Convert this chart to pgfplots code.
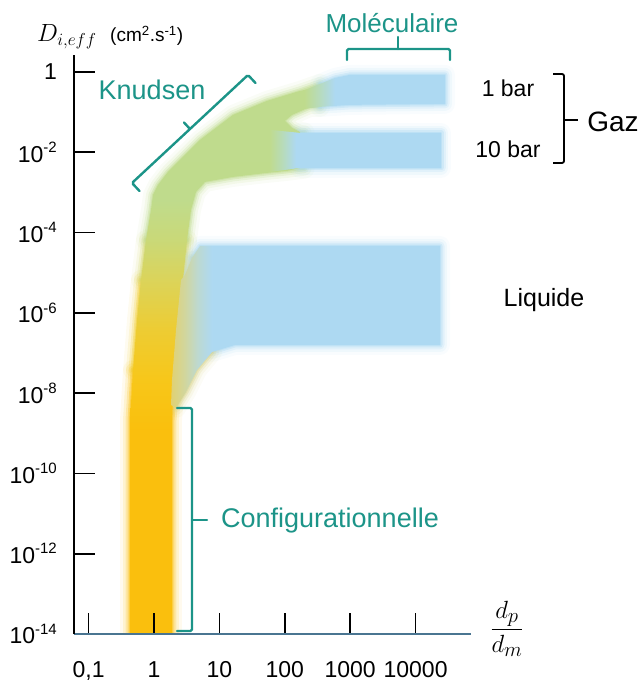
\documentclass[border=0pt]{standalone}
\usepackage{fontspec}
\setmainfont{Liberation Sans}
\usepackage{pgfplots}
\pgfplotsset{compat=1.18}
\definecolor{tealc}{RGB}{28,148,136}
\definecolor{xaxc}{RGB}{74,117,145}
\definecolor{cOr}{rgb}{0.98,0.75,0.05}
\definecolor{cGo}{rgb}{0.94,0.80,0.18}
\definecolor{cYg}{rgb}{0.83,0.84,0.42}
\definecolor{cGr}{rgb}{0.75,0.86,0.56}
\definecolor{cBl}{rgb}{0.68,0.85,0.95}
\definecolor{cBe}{rgb}{0.85,0.83,0.55}
\definecolor{cLb}{rgb}{0.76,0.85,0.78}
\pgfdeclareverticalshading{mainsh}{100bp}{rgb(0bp)=(0.98,0.75,0.05); rgb(43.6bp)=(0.98,0.75,0.05); rgb(48.1bp)=(0.97,0.78,0.10); rgb(52.7bp)=(0.93,0.80,0.20); rgb(57.2bp)=(0.86,0.83,0.35); rgb(60.9bp)=(0.79,0.85,0.47); rgb(64.5bp)=(0.75,0.86,0.55); rgb(100bp)=(0.75,0.86,0.56)}
\pgfdeclarehorizontalshading{gasA}{100bp}{rgb(0bp)=(0.75,0.86,0.56); rgb(25bp)=(0.75,0.86,0.56); rgb(29.6bp)=(0.72,0.86,0.72); rgb(35.7bp)=(0.68,0.85,0.95); rgb(100bp)=(0.68,0.85,0.95)}
\pgfdeclarehorizontalshading{gasB}{100bp}{rgb(0bp)=(0.75,0.86,0.56); rgb(25bp)=(0.75,0.86,0.56); rgb(28.5bp)=(0.72,0.86,0.72); rgb(32.6bp)=(0.68,0.85,0.95); rgb(100bp)=(0.68,0.85,0.95)}
\pgfdeclarehorizontalshading{liqsh}{100bp}{rgb(0bp)=(0.88,0.82,0.45); rgb(25bp)=(0.88,0.82,0.45); rgb(27.6bp)=(0.82,0.84,0.62); rgb(30bp)=(0.74,0.85,0.82); rgb(32.6bp)=(0.68,0.85,0.95); rgb(100bp)=(0.68,0.85,0.95)}
\newcommand{\halo}[2]{%
 \addplot[draw=#1, line width=20pt, opacity=0.07, line join=round, line cap=round] coordinates {#2};
 \addplot[draw=#1, line width=14pt, opacity=0.13, line join=round, line cap=round] coordinates {#2};
 \addplot[draw=#1, line width=9pt, opacity=0.22, line join=round, line cap=round] coordinates {#2};
 \addplot[draw=#1, line width=5pt, opacity=0.35, line join=round, line cap=round] coordinates {#2};
 \addplot[draw=#1, line width=2pt, opacity=0.45, line join=round, line cap=round] coordinates {#2};
}
\newcommand{\ex}[1]{10\raisebox{0.42em}{\fontsize{15}{15}\selectfont #1}}
\begin{document}
\begin{tikzpicture}
\path[use as bounding box] (0,0) rectangle (642pt,681pt);
\begin{axis}[
  at={(74pt,47pt)}, anchor=south west,
  scale only axis, width=397pt, height=579pt,
  xmode=log, ymode=log,
  xmin=0.0598, xmax=70300, ymin=1e-14, ymax=2.63,
  axis x line=bottom, axis y line=left,
  x axis line style={draw=xaxc, line width=1.8pt, -},
  y axis line style={draw=black, line width=1.4pt, -},
  axis on top,
  xtick={0.1,1,10,100,1000,10000},
  xticklabels={{0,1},1,10,100,1000,10000},
  ytick={1e-14,1e-12,1e-10,1e-8,1e-6,1e-4,1e-2,1},
  yticklabels={\ex{-14},\ex{-12},\ex{-10},\ex{-8},\ex{-6},\ex{-4},\ex{-2},1},
  xminorticks=false, yminorticks=false,
  tick align=inside, major tick length=21pt,
  tick style={black, line width=1.6pt},
  tick label style={font=\fontsize{23}{27}\selectfont},
  yticklabel style={anchor=east, inner sep=0pt, xshift=-17pt},
  xticklabel style={anchor=north, inner sep=0pt, yshift=-27pt},
  no markers,
]
% ---- soft edges (halos) ----
\halo{cOr}{(0.43,1e-14)(0.43,2.14e-9)(0.478,3.77e-8)}
\halo{cOr}{(1.884,1e-14)(1.884,2.14e-9)(1.95,4.5e-9)}
\halo{cGo}{(0.478,3.77e-8)(0.55,6.63e-7)(0.633,6.58e-6)}
\halo{cYg}{(0.633,6.58e-6)(0.7545,6.53e-5)}
\halo{cYg}{(3.196,6.53e-5)(2.776,6.58e-6)}
\halo{cGr}{(0.7545,6.53e-5)(0.900,3.65e-4)(0.965,8.63e-4)(1.151,1.531e-3)(1.637,3.23e-3)(2.979,8.55e-3)(5.05,2.02e-2)(16.14,8.49e-2)(53.4,0.1895)(170.8,0.3362)(345.3,0.5024)}
\halo{cGr}{(345.3,0.1343)(242.8,0.1343)(128.8,8.49e-2)(100.7,6.02e-2)(128.8,4.03e-2)(170.8,3.20e-2)(200,3.1e-2)}
\halo{cGr}{(200,3.9e-3)(108.1,3.42e-3)(53.4,3.05e-3)(16.14,2.42e-3)(6.02,1.818e-3)(4.387,1.024e-3)(3.679,3.65e-4)(3.196,6.53e-5)}
\halo{cBl}{(345.3,0.5024)(585.6,0.7087)(993,0.842)(28150,0.842)(28150,0.1595)(993,0.1507)(345.3,0.1343)}
\halo{cBl}{(170.8,3.02e-2)(24450,3.02e-2)(24450,4.06e-3)(170.8,4.06e-3)}
\halo{cBl}{(3.811,2.32e-5)(5.05,4.62e-5)(23600,4.62e-5)(23600,1.58e-7)(17.32,1.58e-7)(7.705,1.057e-7)}
\halo{cBe}{(7.705,1.057e-7)(4.545,3.77e-8)(3.085,1.067e-8)(2.170,4.26e-9)}
\halo{cLb}{(2.979,8.77e-6)(3.811,2.32e-5)}
% ---- bands ----
\addplot[draw=none, shading=mainsh] coordinates {
(0.43,1e-14)(0.43,2.14e-9)(0.478,3.77e-8)(0.55,6.63e-7)(0.633,6.58e-6)(0.7545,6.53e-5)
(0.900,3.65e-4)(0.965,8.63e-4)(1.151,1.531e-3)(1.637,3.23e-3)(2.979,8.55e-3)(5.05,2.02e-2)
(16.14,8.49e-2)(53.4,0.1895)(170.8,0.3362)(411.8,0.448)(585.6,0.4745)(585.6,0.1595)
(242.8,0.1343)(128.8,8.49e-2)(100.7,6.02e-2)(128.8,4.03e-2)(170.8,3.20e-2)(170.8,4.06e-3)
(108.1,3.42e-3)(53.4,3.05e-3)(16.14,2.42e-3)(6.02,1.818e-3)(4.387,1.024e-3)(3.679,3.65e-4)
(3.196,6.53e-5)(2.776,6.58e-6)(2.328,3.73e-7)(2.022,2.12e-8)(1.884,2.14e-9)(1.884,1e-14)};
\addplot[draw=none, shading=gasA] coordinates {
(203.6,0.356)(345.3,0.5024)(585.6,0.7087)(993,0.842)(28150,0.842)(28150,0.1595)
(993,0.1507)(345.3,0.1343)(203.6,0.1198)};
\addplot[draw=none, shading=gasB] coordinates {
(59.4,3.59e-2)(170.8,3.02e-2)(24450,3.02e-2)(24450,4.06e-3)(170.8,4.06e-3)(59.4,3.23e-3)};
\addplot[draw=none, shading=liqsh] coordinates {
(2.979,8.77e-6)(3.811,2.32e-5)(5.05,4.62e-5)(23600,4.62e-5)(23600,1.58e-7)(17.32,1.58e-7)
(7.705,1.057e-7)(4.545,3.77e-8)(3.085,1.067e-8)(2.170,4.26e-9)(1.820,5.06e-9)(1.884,2.12e-8)
(2.170,3.73e-7)(2.587,6.58e-6)};
\end{axis}
% ---- annotations ----
\node[anchor=base west, inner sep=0pt] at (37pt,639pt) {\fontsize{25}{29}\selectfont$D_{i,eff}$};
\node[anchor=base west, inner sep=0pt] at (110pt,639pt) {\fontsize{19}{22}\selectfont (cm\textsuperscript{2}.s\textsuperscript{-1})};
\node[inner sep=0pt] at (507pt,52pt) {\fontsize{28}{32}\selectfont$\displaystyle\frac{d_p}{d_m}$};
\begin{scope}[draw=tealc, line width=2.4pt, rounded corners=1.5pt, line cap=round]
\draw (255.5pt,598pt) -- (248pt,606pt) -- (132pt,498pt) -- (139.5pt,490pt);
\draw (190pt,552pt) -- (184pt,558.5pt);
\draw (347pt,621pt) -- (347pt,632pt) -- (450pt,632pt) -- (450pt,621pt);
\draw (398pt,632pt) -- (398pt,644pt);
\draw (177pt,273pt) -- (192pt,273pt) -- (192pt,50pt) -- (177pt,50pt);
\draw (192pt,161pt) -- (207pt,161pt);
\end{scope}
\draw[black, line width=1.8pt, rounded corners=2pt] (553pt,607pt) -- (564pt,607pt) -- (564pt,518pt) -- (553pt,518pt);
\draw[black, line width=1.8pt] (564pt,561pt) -- (578pt,561pt);
\node[tealc, anchor=base, font=\fontsize{27}{30}\selectfont] at (152pt,581pt) {Knudsen};
\node[tealc, anchor=base, font=\fontsize{26}{30}\selectfont] at (392pt,648pt) {Moléculaire};
\node[tealc, anchor=base, font=\fontsize{27}{30}\selectfont] at (330pt,153pt) {Configurationnelle};
\node[anchor=base, font=\fontsize{23}{27}\selectfont] at (508pt,584pt) {1 bar};
\node[anchor=base, font=\fontsize{23}{27}\selectfont] at (508pt,523pt) {10 bar};
\node[anchor=base, font=\fontsize{28}{32}\selectfont] at (613pt,549pt) {Gaz};
\node[anchor=base, font=\fontsize{25}{29}\selectfont] at (544pt,374pt) {Liquide};
\end{tikzpicture}
\end{document}
